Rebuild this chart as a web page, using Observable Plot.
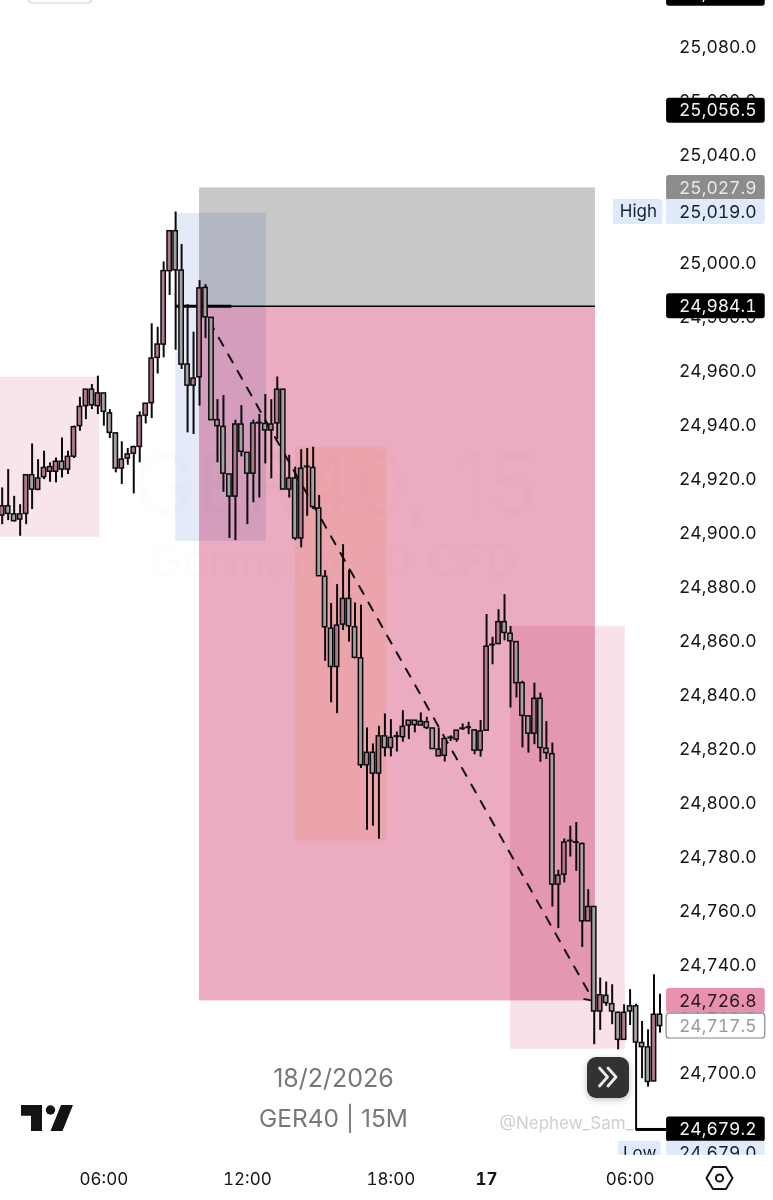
<!DOCTYPE html>
<html>
<head>
<meta charset="utf-8">
<script src="https://cdn.jsdelivr.net/npm/d3@7"></script>
<script src="https://cdn.jsdelivr.net/npm/@observablehq/plot@0.6"></script>
<style>
html,body{margin:0;padding:0;background:#fff;overflow:hidden}
#wrap{position:relative;width:773px;height:1200px;overflow:hidden}
#over{position:absolute;left:0;top:0;pointer-events:none}
</style>
</head>
<body>
<div id="wrap"></div>
<script>
const opens = [24906.6,24910.0,24907.0,24905.1,24907.2,24921.5,24916.1,24920.8,24922.8,24922.8,24926.5,24923.6,24928.4,24939.7,24947.1,24953.2,24947.1,24951.8,24944.4,24937.0,24924.0,24927.7,24929.5,24932.0,24943.6,24948.2,24965.0,24969.9,24997.1,25011.9,24997.3,24962.5,24954.7,24957.8,24990.9,24979.8,24941.9,24939.4,24921.8,24913.6,24940.3,24929.8,24922.1,24940.9,24940.5,24938.1,24940.7,24953.2,24916.2,24920.3,24898.1,24924.7,24924.2,24909.2,24883.9,24864.7,24850.5,24866.2,24875.7,24865.2,24853.7,24814.1,24818.7,24811.0,24824.8,24820.5,24824.8,24824.5,24828.8,24830.6,24828.8,24830.0,24827.7,24817.4,24817.6,24824.3,24823.6,24827.7,24828.1,24827.0,24819.5,24826.9,24858.7,24859.0,24867.1,24862.8,24859.7,24844.5,24832.2,24825.8,24838.7,24820.2,24818.2,24769.9,24773.6,24786.1,24785.6,24784.9,24756.3,24761.6,24722.9,24728.7,24725.6,24722.4,24712.4,24724.8,24724.8,24711.2,24709.6,24697.0,24721.7];
const closes = [24910.0,24907.2,24904.5,24907.0,24921.5,24916.2,24920.3,24924.2,24924.5,24926.5,24923.6,24928.3,24939.3,24946.8,24953.2,24947.4,24951.8,24945.0,24937.2,24924.0,24927.3,24929.2,24931.9,24943.4,24948.0,24964.7,24969.9,24997.1,25011.9,24997.4,24962.5,24954.7,24957.3,24990.7,24980.0,24941.9,24939.7,24922.1,24913.6,24940.3,24930.2,24922.1,24940.7,24940.7,24938.1,24940.3,24953.2,24916.2,24920.3,24898.1,24923.9,24924.5,24909.7,24884.1,24865.2,24850.5,24865.8,24875.7,24865.6,24853.9,24814.1,24818.7,24811.0,24824.8,24820.5,24824.2,24824.6,24828.3,24830.6,24829.0,24830.2,24827.9,24820.1,24819.9,24823.8,24824.1,24826.9,24827.5,24827.9,24819.5,24826.6,24858.0,24858.5,24867.1,24863.1,24860.0,24844.5,24832.4,24825.8,24838.7,24820.5,24818.6,24769.9,24773.2,24785.5,24785.9,24785.4,24756.3,24761.6,24722.9,24728.9,24726.0,24722.9,24712.4,24722.4,24722.9,24711.4,24709.7,24696.8,24721.7,24717.5];
const highs = [24916.8,24923.6,24913.7,24910.6,24921.8,24933.1,24927.3,24930.4,24926.1,24927.9,24935.3,24930.4,24939.7,24950.4,24953.2,24955.1,24958.2,24951.8,24945.8,24937.2,24933.9,24931.4,24932.3,24945.0,24948.1,24977.6,24976.3,25000.5,25011.9,25019.0,25007.0,24984.7,24974.5,24993.6,24992.1,24979.8,24949.5,24951.0,24921.8,24941.9,24947.3,24929.8,24941.9,24944.0,24951.4,24949.5,24957.9,24953.2,24928.9,24924.5,24931.0,24931.4,24931.9,24914.0,24886.2,24874.0,24881.0,24895.8,24886.3,24874.2,24873.4,24827.9,24822.0,24828.5,24833.1,24831.0,24826.4,24834.3,24830.6,24830.6,24833.5,24831.9,24827.7,24827.9,24823.9,24825.0,24827.0,24829.4,24830.0,24827.3,24830.7,24869.9,24861.5,24871.7,24877.3,24865.5,24859.7,24845.2,24832.2,24844.5,24840.8,24830.3,24822.3,24775.2,24786.8,24791.5,24792.9,24785.3,24768.0,24761.6,24735.3,24733.8,24732.8,24722.7,24725.4,24731.0,24725.6,24719.2,24716.1,24736.5,24729.3];
const lows = [24903.2,24904.7,24904.2,24898.9,24903.2,24908.8,24915.8,24919.9,24918.9,24918.7,24920.5,24921.8,24927.7,24937.8,24942.1,24945.8,24944.0,24939.7,24935.1,24922.4,24918.1,24925.2,24914.6,24926.1,24940.5,24942.5,24959.0,24965.0,24988.1,24967.8,24960.7,24937.2,24936.6,24947.1,24972.1,24941.9,24926.1,24915.2,24898.1,24897.3,24928.3,24903.2,24911.3,24913.1,24925.7,24920.2,24934.7,24916.2,24913.1,24897.3,24894.6,24906.3,24908.8,24884.1,24852.6,24837.2,24833.2,24864.0,24859.7,24853.5,24812.9,24790.0,24791.5,24786.7,24817.2,24817.2,24819.0,24822.6,24823.6,24826.1,24828.8,24827.3,24820.1,24817.4,24815.3,24822.9,24822.6,24827.0,24825.4,24818.0,24817.1,24826.9,24851.3,24858.8,24860.2,24835.3,24839.0,24820.5,24818.6,24821.7,24815.2,24816.2,24761.6,24753.6,24770.5,24780.1,24774.8,24746.6,24756.3,24710.6,24715.9,24724.8,24718.0,24708.7,24712.4,24717.7,24679.0,24698.0,24694.9,24697.0,24714.9];

const priceTicks = [25080,25060,25040,25020,25000,24980,24960,24940,24920,24900,24880,24860,24840,24820,24800,24780,24760,24740,24720,24700,24680];
const timeTicks = [17,41,65,105];
const timeLabels = ["06:00","12:00","18:00","06:00"];
const dayTick = [81];
const dayLabel = "17";

const candles = opens.map((o,i)=>({i,o,c:closes[i],h:highs[i],l:lows[i]}));
const up = candles.filter(d=>d.c>=d.o);
const down = candles.filter(d=>d.c<d.o);

const fmt = d3.format(",.1f");
const BG = "Inter, 'Noto Sans', sans-serif";

const tagX1 = 111.1, tagX2 = 127.6, half = 4.6;
function tag(pos, text, fill, color, extra={}) {
  return [
    Plot.rect([pos],{x1:tagX1,x2:tagX2,y1:d=>d+half,y2:d=>d-half,fill,r:3,...extra}),
    Plot.text([pos],{y:d=>d,text:()=>text,frameAnchor:"right",dx:-17,textAnchor:"end",fill:color,fontSize:17.5,fontVariant:"tabular-nums"})
  ];
}
function zone(x1,x2,y1,y2,fill,extra={}) {
  return Plot.rect([0],{x1:()=>x1,x2:()=>x2,y1:()=>y1,y2:()=>y2,fill,...extra});
}
function note(text,dx,dy,size,color,anchor="middle",extra={}) {
  return Plot.text([text],{text:d=>d,frameAnchor:"top-left",dx,dy,fontSize:size,fill:color,textAnchor:anchor,lineAnchor:"middle",...extra});
}

const chart = Plot.plot({
  width:773,height:1200,
  marginTop:0,marginRight:0,marginBottom:0,marginLeft:0,
  style:{fontFamily:BG,background:"#fff"},
  x:{type:"linear",domain:[-0.284,128.98],range:[0,773],axis:null},
  y:{type:"linear",domain:[24652.89,25097.34],range:[1200,0],axis:null},
  marks:[
    // zones
    zone(-0.3,16.3,24957.8,24898.5,"#f8e5eb"),
    zone(33,99.2,25027.9,24984.1,"#c8c8c8"),
    zone(33,99.2,24984.1,24726.8,"#ebabc1"),
    zone(29,44.2,25018.5,24897.0,"#e5eaf8",{mixBlendMode:"multiply"}),
    zone(49.05,64.3,24931.9,24786.0,"#fff3e4",{mixBlendMode:"multiply"}),
    zone(85,104.2,24865.6,24708.9,"#f8e1e9",{mixBlendMode:"multiply"}),
    // faint symbol watermark
    note("GER40, 15",335,487,84,"#777",undefined,{fillOpacity:0.015}),
    note("Germany 40 CFD",333,562,45,"#777",undefined,{fillOpacity:0.015}),
    // dashed trend arrow
    Plot.line([{x:34.67,y:24978.5},{x:98.9,y:24726.8}],{x:"x",y:"y",stroke:"#111",strokeWidth:2,strokeDasharray:"9,10"}),
    Plot.link([0],{x1:()=>97.2,y1:()=>24727.6,x2:()=>98.9,y2:()=>24726.8,stroke:"#111",strokeWidth:1.8}),
    // entry line
    Plot.ruleY([24984.1],{x1:33,x2:99.2,stroke:"#000",strokeWidth:1.6}),
    Plot.ruleY([24984.1],{x1:29,x2:38.4,stroke:"#000",strokeWidth:3}),
    // candles
    Plot.ruleX(candles,{x:"i",y1:"l",y2:"h",stroke:"#0b0b0b",strokeWidth:2}),
    Plot.rect(down,{x1:d=>d.i-0.36,x2:d=>d.i+0.36,y1:"o",y2:"c",fill:"#a5a0a2",stroke:"#0b0b0b",strokeWidth:1.5}),
    Plot.rect(up,{x1:d=>d.i-0.36,x2:d=>d.i+0.36,y1:"o",y2:"c",fill:"#b07a8c",stroke:"#0b0b0b",strokeWidth:1.5}),
    // bottom texts
    note("@Nephew_Sam_",499,1123,17,"#cfcfd3","start"),
    note("18/2/2026",333,1078,25,"#78787c"),
    note("GER40 | 15M",333,1119,24.5,"#78787c"),
    // low line
    Plot.ruleY([24679.2],{x1:106,x2:111.1,stroke:"#000",strokeWidth:3}),
    // price axis
    Plot.axisY(priceTicks,{anchor:"right",label:null,tickSize:0,tickPadding:0,dx:-17,textAnchor:"end",tickFormat:fmt,fontSize:17.5,fill:"#16161a"}),
    // price tags
    ...tag(25099.8,"25,099.8","#000","#fff"),
    ...tag(25056.5,"25,056.5","#000","#f4f4f4"),
    ...tag(25027.9,"25,027.9","#8c8c8c","#e8e8e8"),
    ...tag(25019.0,"25,019.0","#e0eafa","#16202e"),
    ...tag(24984.1,"24,984.1","#000","#f4f4f4"),
    ...tag(24726.8,"24,726.8","#e891ad","#241a1e"),
    ...tag(24717.5,"24,717.5","#fff","#9a9a9a",{stroke:"#8a8a8a",strokeWidth:1.2}),
    ...tag(24679.2,"24,679.2","#000","#f4f4f4"),
    ...tag(24670.2,"24,679.0","#e0eafa","#16202e"),
    Plot.rect([25019.0],{x1:102.2,x2:110.5,y1:d=>d+half,y2:d=>d-half,fill:"#e0eafa",r:2}),
    Plot.text(["High"],{x:()=>106.4,y:()=>25019.0,text:d=>d,fontSize:17,fill:"#16202e"}),
    Plot.rect([24670.2],{x1:103,x2:110.2,y1:d=>d+half,y2:d=>d-half,fill:"#e0eafa",r:2}),
    Plot.text(["Low"],{x:()=>106.6,y:()=>24670.2,text:d=>d,fontSize:17,fill:"#16202e"}),
    // time scale panel
    Plot.rect([0],{x1:-0.3,x2:129,y1:24669.6,y2:24652.89,fill:"#fff"}),
    Plot.axisX(timeTicks,{anchor:"bottom",label:null,tickSize:0,tickPadding:0,dy:-28,tickFormat:d=>timeLabels[timeTicks.indexOf(d)],fontSize:17,fill:"#16161a"}),
    Plot.axisX(dayTick,{anchor:"bottom",label:null,tickSize:0,tickPadding:0,dy:-28,tickFormat:()=>dayLabel,fontSize:17,fontWeight:"bold",fill:"#16161a"})
  ]
});
const wrap = document.getElementById("wrap");
wrap.appendChild(chart);

wrap.insertAdjacentHTML("beforeend",`
<svg id="over" width="773" height="1200" viewBox="0 0 773 1200" xmlns="http://www.w3.org/2000/svg">
  <defs><filter id="sh" x="-30%" y="-30%" width="160%" height="160%"><feDropShadow dx="0" dy="2" stdDeviation="3" flood-color="#000" flood-opacity=".25"/></filter></defs>
  <path d="M28.5 -4V0a3 3 0 0 0 3 3H88.500a3 3 0 0 0 3-3V-4" fill="#fff" stroke="#cfcfcf" stroke-width="1.2"/>
  <path d="M21 1105H42V1131H31V1115.700H21Z M61 1105H73L62.500 1131H50.500Z" fill="#131313"/>
  <circle cx="50.500" cy="1110" r="4.700" fill="#131313"/>
  <rect x="587" y="1057" width="42" height="41" rx="9" fill="#333" filter="url(#sh)"/>
  <path d="M599.500 1068l8 9l-8 9 M608 1068l8 9l-8 9" fill="none" stroke="#ececec" stroke-width="2.800" stroke-linecap="round" stroke-linejoin="round"/>
  <path d="M706.500 1178l6.500-11h13l6.500 11l-6.500 11h-13z" fill="none" stroke="#131313" stroke-width="2" stroke-linejoin="round"/>
  <circle cx="719.500" cy="1178" r="3.600" fill="none" stroke="#131313" stroke-width="2"/>
</svg>`);
</script>
</body>
</html>
